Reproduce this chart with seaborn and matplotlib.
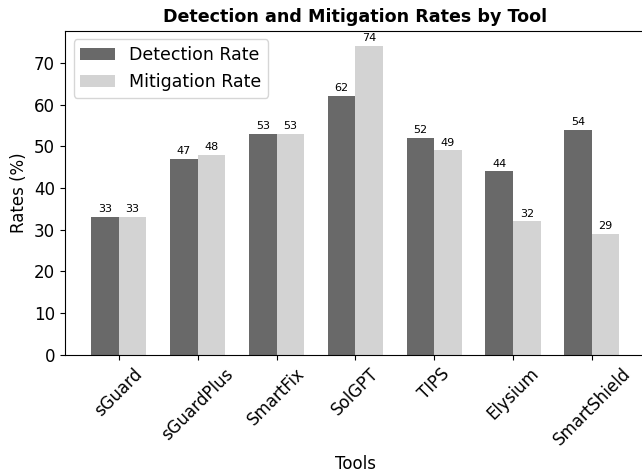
import matplotlib
matplotlib.use("Agg")
import matplotlib.pyplot as plt
import seaborn as sns
import pandas as pd

tools = ["sGuard", "sGuardPlus", "SmartFix", "SolGPT", "TIPS", "Elysium", "SmartShield"]
detection = [33, 47, 53, 62, 52, 44, 54]
mitigation = [33, 48, 53, 74, 49, 32, 29]

df = pd.DataFrame({
    "Tool": tools * 2,
    "Rate": detection + mitigation,
    "Metric": ["Detection Rate"] * len(tools) + ["Mitigation Rate"] * len(tools),
})

plt.rcParams['font.family'] = ['DejaVu Sans']

fig, ax = plt.subplots(figsize=(6.42, 4.72), dpi=100)
sns.barplot(data=df, x="Tool", y="Rate", hue="Metric",
            palette=["#696969", "#d3d3d3"], saturation=1, width=0.7,
            linewidth=0, ax=ax)

for c in ax.containers:
    ax.bar_label(c, fmt="%d", fontsize=8, padding=2)

ax.set_title("Detection and Mitigation Rates by Tool", fontweight="bold", fontsize=12.6)
ax.set_xlabel("Tools", fontsize=12)
ax.set_ylabel("Rates (%)", fontsize=12)
ax.tick_params(axis="both", labelsize=12)
plt.setp(ax.get_xticklabels(), rotation=45)
n = len(tools)
span = (n - 1) + 0.7
ax.set_xlim(-0.35 - 0.05 * span, n - 1 + 0.35 + 0.05 * span)
ax.set_ylim(0, 77.7)
ax.legend(title=None, fontsize=12.5, loc="upper left")
fig.subplots_adjust(left=0.101, right=1.006, top=0.935, bottom=0.248)
fig.savefig("out.png", dpi=100)
